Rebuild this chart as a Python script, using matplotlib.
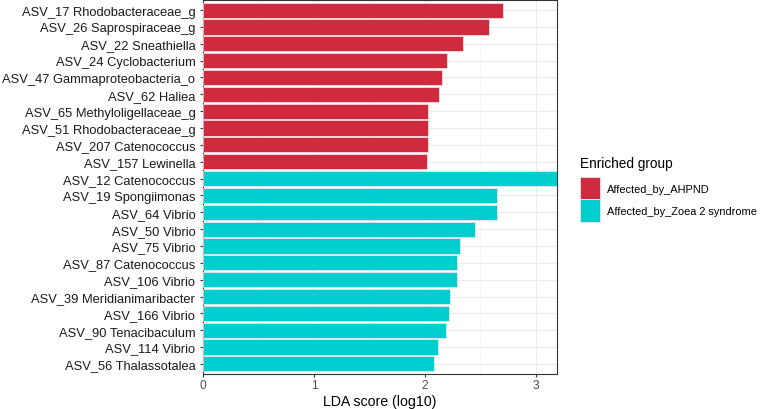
import matplotlib.pyplot as plt
from matplotlib.patches import Patch

plt.rcParams['font.family'] = ['Liberation Sans', 'DejaVu Sans']

# LEfSe results, top to bottom
features = ["ASV_17 Rhodobacteraceae_g", "ASV_26 Saprospiraceae_g", "ASV_22 Sneathiella",
            "ASV_24 Cyclobacterium", "ASV_47 Gammaproteobacteria_o", "ASV_62 Haliea",
            "ASV_65 Methyloligellaceae_g", "ASV_51 Rhodobacteraceae_g", "ASV_207 Catenococcus",
            "ASV_157 Lewinella", "ASV_12 Catenococcus", "ASV_19 Spongiimonas",
            "ASV_64 Vibrio", "ASV_50 Vibrio", "ASV_75 Vibrio", "ASV_87 Catenococcus",
            "ASV_106 Vibrio", "ASV_39 Meridianimaribacter", "ASV_166 Vibrio",
            "ASV_90 Tenacibaculum", "ASV_114 Vibrio", "ASV_56 Thalassotalea"]
lda = [2.70, 2.58, 2.345, 2.20, 2.156, 2.13, 2.03, 2.03, 2.03, 2.02,
       3.25, 2.65, 2.645, 2.45, 2.32, 2.29, 2.29, 2.23, 2.22, 2.19, 2.12, 2.08]
groups = ["Affected_by_AHPND"] * 10 + ["Affected_by_Zoea 2 syndrome"] * 12

group_names = ["Affected_by_AHPND", "Affected_by_Zoea 2 syndrome"]
group_colors = {"Affected_by_AHPND": "#CF2A3E", "Affected_by_Zoea 2 syndrome": "#00CDCD"}

fig = plt.figure(figsize=(7.6, 4.1), dpi=100)
ax = fig.add_axes([203 / 760, 35 / 410, 354 / 760, 374 / 410])

n = len(features)
ypos = list(range(n - 1, -1, -1))
colors = [group_colors[g] for g in groups]
ax.barh(ypos, lda, height=0.9, color=colors, edgecolor="#FBE9EC", linewidth=0.5, zorder=3)

ax.set_yticks(ypos)
ax.set_yticklabels(features, fontsize=9.3, color="#1A1A1A")
ax.set_ylim(-0.6, n - 0.4)
ax.set_xlim(0, 3.19)
ax.set_xticks([0, 1, 2, 3])
ax.set_xticks([0.5, 1.5, 2.5], minor=True)
ax.tick_params(axis="x", labelsize=8.6, labelcolor="#4D4D4D", color="#333333", length=2, pad=1.5)
ax.tick_params(axis="y", color="#333333", length=2.5, pad=3)
ax.tick_params(axis="x", which="minor", length=0)

ax.grid(True, which="major", color="#EBEBEB", linewidth=0.8, zorder=0)
ax.grid(True, which="minor", axis="x", color="#F2F2F2", linewidth=0.5, zorder=0)
ax.set_axisbelow(True)
for s in ax.spines.values():
    s.set_color("#333333")
    s.set_linewidth(0.8)

ax.set_xlabel("LDA score (log10)", fontsize=10.2, labelpad=2)

handles = [Patch(facecolor=group_colors[g], edgecolor="#FBE9EC", linewidth=0.5) for g in group_names]
leg = fig.legend(handles, group_names, title="Enriched group", loc="upper left",
                 bbox_to_anchor=(578 / 760, 1 - 155 / 410), frameon=False,
                 fontsize=7.9, title_fontsize=9.8, handlelength=1.85, handleheight=2.75,
                 labelspacing=0.0, handletextpad=0.55, borderaxespad=0, borderpad=0.2)
leg._legend_box.align = "left"
leg._legend_box.sep = 5

fig.savefig("out.png", dpi=100)
